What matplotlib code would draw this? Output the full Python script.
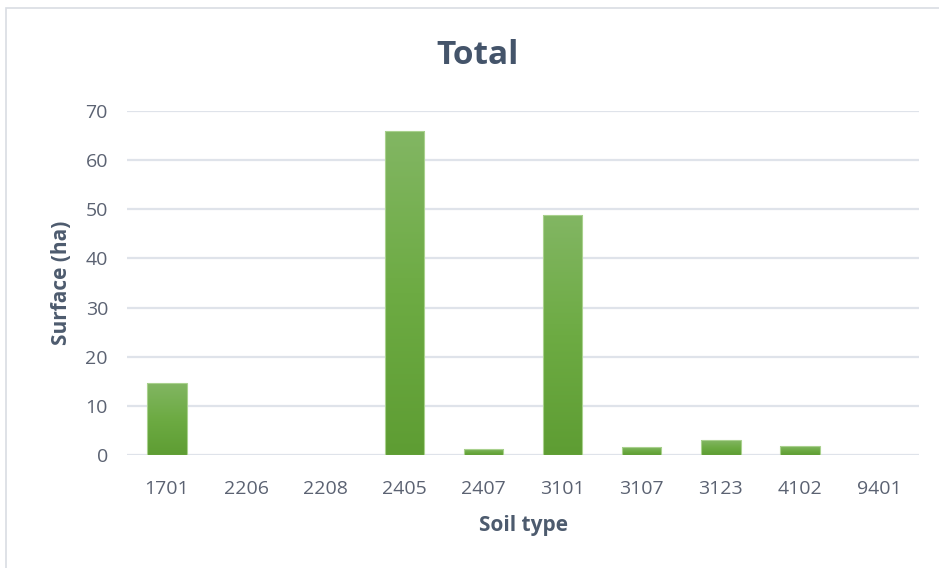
import matplotlib
matplotlib.use("Agg")
import matplotlib.pyplot as plt
import numpy as np
from matplotlib.colors import LinearSegmentedColormap
from matplotlib.patches import Rectangle

categories = ["1701", "2206", "2208", "2405", "2407", "3101", "3107", "3123", "4102", "9401"]
values = [14.7, 0, 0, 65.9, 1.2, 48.8, 1.6, 3.05, 1.8, 0]
yticks = [0, 10, 20, 30, 40, 50, 60, 70]

plt.rcParams['font.family'] = ['Open Sans', 'DejaVu Sans']

fig = plt.figure(figsize=(9.39, 5.68), dpi=100)
W, H = 939, 568
ax = fig.add_axes([127.4 / W, 1 - 455 / H, (918.6 - 127.4) / W, (455 - 111) / H])

# outer border
fig.patches.append(Rectangle((6 / W, -0.1), 1.0, 1 - 8 / H + 0.1, transform=fig.transFigure,
                             fill=False, edgecolor='#d9dde3', linewidth=1.2))

x = np.arange(len(categories))
bars = ax.bar(x, values, width=0.5, color='none', edgecolor='none', zorder=3)

cmap = LinearSegmentedColormap.from_list('g', ['#5e9d33', '#6dab43', '#82b663'])
grad = np.linspace(0, 1, 256).reshape(-1, 1)
for b in bars:
    h = b.get_height()
    if h <= 0:
        continue
    x0 = b.get_x()
    w = b.get_width()
    im = ax.imshow(grad, cmap=cmap, origin='lower', aspect='auto',
                   extent=(x0, x0 + w, 0, h), zorder=3, interpolation='bilinear')
    rect = Rectangle((x0, 0), w, h, transform=ax.transData)
    im.set_clip_path(rect)
    ax.add_patch(Rectangle((x0, 0), w, h, fill=False, edgecolor='#a9d18e',
                           linewidth=0.8, zorder=4))

ax.set_xlim(-0.5, len(categories) - 0.5)
ax.set_ylim(0, 70)
ax.set_yticks(yticks)
ax.set_xticks(x)
ax.set_xticklabels(categories)
ax.grid(axis='y', color='#dfe3ea', linewidth=1.6, zorder=0)
ax.set_axisbelow(True)
for s in ax.spines.values():
    s.set_visible(False)
ax.tick_params(axis='both', length=0, labelsize=14, colors='#5b6272')
ax.tick_params(axis='x', pad=18)
ax.tick_params(axis='y', pad=14)

ax.set_xlabel('Soil type', fontsize=15, fontweight='bold', color='#4d5b6e', labelpad=12)
ax.set_ylabel('Surface (ha)', fontsize=15, fontweight='bold', color='#4d5b6e', labelpad=10)
fig.text(478 / W, 1 - 56 / H, 'Total', ha='center', va='center', fontsize=24,
         fontweight='bold', color='#44546a')

fig.savefig('out.png', dpi=100)
